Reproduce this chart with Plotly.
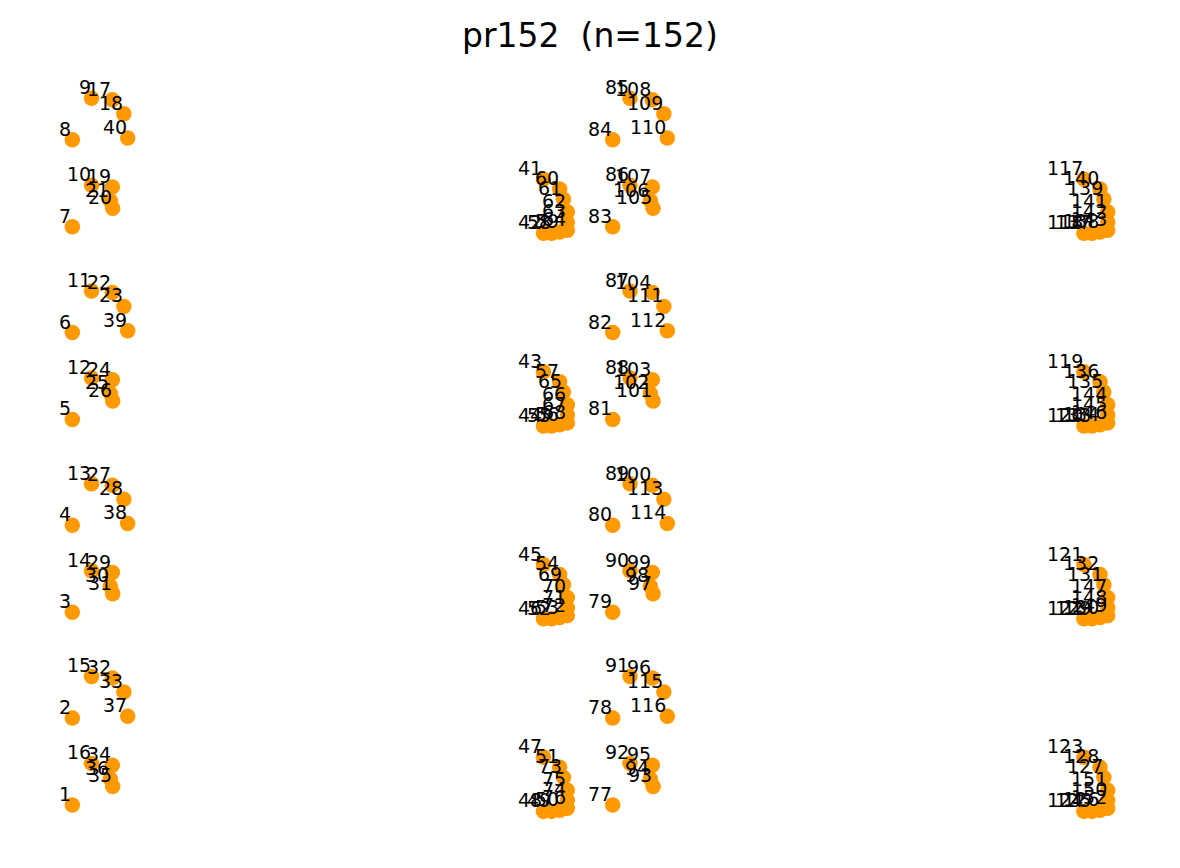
import plotly.graph_objects as go

# pr152 node coordinates, node i is at index i-1
xs = [
    2100, 2100, 2100, 2100, 2100, 2100, 2100, 2100,            # 1-8
    2350, 2350, 2350, 2350, 2350, 2350, 2350, 2350,            # 9-16
    2620, 2770, 2620, 2625, 2595, 2620, 2770, 2620, 2595, 2625,  # 17-26
    2620, 2770, 2620, 2595, 2625, 2620, 2770, 2620, 2625, 2595,  # 27-36
    2820, 2820, 2820, 2820,                                    # 37-40
    8225, 8225, 8225, 8225, 8225, 8225, 8225, 8225,            # 41-48
    8330, 8435, 8435, 8330, 8435, 8435, 8330, 8435, 8435, 8330, 8435, 8435,  # 49-60
    8485, 8535, 8535, 8535, 8485, 8535, 8535, 8535,            # 61-68
    8485, 8535, 8535, 8535, 8485, 8535, 8535, 8535,            # 69-76
    9125, 9125, 9125, 9125, 9125, 9125, 9125, 9125,            # 77-84
    9350, 9350, 9350, 9350, 9350, 9350, 9350, 9350,            # 85-92
    9650, 9615, 9640, 9640, 9650, 9615, 9640, 9640,            # 93-100
    9650, 9615, 9640, 9640, 9650, 9615, 9640, 9640,            # 101-108
    9790, 9835, 9790, 9835, 9790, 9835, 9790, 9835,            # 109-116
    15250, 15250, 15250, 15250, 15250, 15250, 15250, 15250,    # 117-124
    15355, 15460, 15510, 15460, 15355, 15460, 15510, 15460,    # 125-132
    15355, 15460, 15510, 15460, 15355, 15460, 15510, 15460,    # 133-140
    15560, 15560, 15560, 15560, 15560, 15560, 15560, 15560,    # 141-148
    15560, 15560, 15560, 15560,                                # 149-152
]
ys = [
    1850, 3000, 4400, 5550, 6950, 8100, 9500, 10650,           # 1-8
    11200, 10050, 8650, 7500, 6100, 4950, 3550, 2400,          # 9-16
    11180, 10995, 10025, 9745, 9845, 8630, 8445, 7475, 7295, 7195,  # 17-26
    6080, 5895, 4925, 4745, 4645, 3530, 3345, 2375, 2095, 2195,     # 27-36
    3025, 5575, 8125, 10675,                                   # 37-40
    10130, 9415, 7580, 6865, 5030, 4315, 2480, 1765,           # 41-48
    1765, 1780, 2350, 4315, 4330, 4900, 6865, 6880, 7450, 9415, 9430, 10000,  # 49-60
    9865, 9695, 9560, 9455, 7315, 7145, 7010, 6905,            # 61-68
    4765, 4595, 4460, 4355, 2215, 1910, 2045, 1805,            # 69-76
    1850, 3000, 4400, 5550, 6950, 8100, 9500, 10650,           # 77-84
    11200, 10050, 8650, 7500, 6100, 4950, 3550, 2400,          # 85-92
    2095, 2195, 2375, 3530, 4645, 4745, 4925, 6080,            # 93-100
    7195, 7295, 7475, 8630, 9745, 9845, 10025, 11180,          # 101-108
    10995, 10675, 8445, 8125, 5895, 5575, 3345, 3025,          # 109-116
    10130, 9415, 7580, 6865, 5030, 4315, 2480, 1765,           # 117-124
    1765, 1780, 2215, 2350, 4315, 4330, 4765, 4900,            # 125-132
    6865, 6880, 7315, 7450, 9415, 9430, 9865, 10000,           # 133-140
    9695, 9560, 9455, 7145, 7010, 6905, 4595, 4460,            # 141-148
    4355, 1910, 2045, 1805,                                    # 149-152
]
node_ids = list(range(1, len(xs) + 1))
title_text = "pr152\u00a0\u00a0(n=152)"

fig = go.Figure()
fig.add_trace(go.Scatter(
    x=xs, y=ys, mode="markers",
    marker=dict(size=15.5, color="#FF9900", line=dict(width=0)),
    hoverinfo="skip", showlegend=False, cliponaxis=False,
))

annotations = []
for nid, x, y in zip(node_ids, xs, ys):
    annotations.append(dict(
        x=x, y=y, xref="x", yref="y", text=str(nid), showarrow=False,
        xanchor="right", yanchor="bottom", borderpad=0, xshift=0, yshift=-1,
        font=dict(family="DejaVu Sans", size=19, color="black"),
    ))

fig.update_layout(
    width=1180, height=868,
    margin=dict(l=0, r=0, t=0, b=0),
    paper_bgcolor="white", plot_bgcolor="white",
    xaxis=dict(visible=False, range=[1160, 16500]),
    yaxis=dict(visible=False, range=[1016, 12500]),
    annotations=annotations,
    title=dict(
        text=title_text, x=0.5, xanchor="center", xref="paper",
        y=1 - 35 / 868, yanchor="middle", yref="container",
        font=dict(family="DejaVu Sans", size=33, color="black"),
    ),
)

fig.write_html("out.html")
